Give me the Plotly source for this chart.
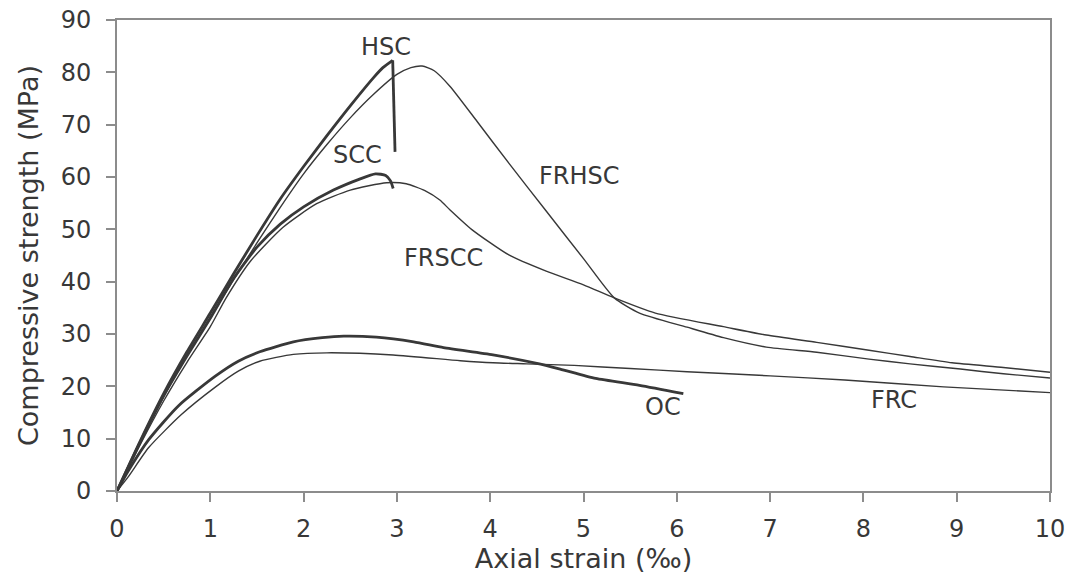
import plotly.graph_objects as go

# ---- data ----
hsc_x = [0, 0.25, 0.5, 0.75, 1.0, 1.25, 1.5, 1.75, 2.0, 2.25, 2.5, 2.75, 2.85, 2.955, 2.98]
hsc_y = [0, 9.6, 18.6, 26.6, 34.0, 41.5, 48.8, 55.8, 62.0, 67.9, 73.6, 79.0, 80.9, 82.3, 64.8]

frhsc_x = [0, 0.25, 0.5, 0.75, 1.0, 1.25, 1.5, 1.75, 2.0, 2.25, 2.5, 2.75, 3.0, 3.15, 3.27, 3.4, 3.57,
           3.86, 4.21, 4.6, 5.0, 5.33, 5.6, 6.11, 6.5, 6.96, 7.5, 8.06, 8.5, 9.04, 9.5, 10.0]
frhsc_y = [0, 9.2, 18.0, 25.9, 33.2, 40.4, 47.4, 54.2, 60.6, 66.2, 71.3, 75.8, 79.6, 80.9, 81.2, 80.3, 77.3,
           70.6, 62.4, 53.5, 44.4, 36.9, 34.0, 31.3, 29.3, 27.5, 26.5, 25.2, 24.3, 23.3, 22.4, 21.6]

scc_x = [0, 0.25, 0.5, 0.75, 1.0, 1.25, 1.5, 1.75, 2.0, 2.32, 2.6, 2.77, 2.88, 2.93, 2.96]
scc_y = [0, 9.4, 18.2, 25.8, 33.0, 40.6, 46.6, 51.0, 54.3, 57.5, 59.6, 60.6, 60.3, 59.3, 57.8]

frscc_x = [0, 0.25, 0.5, 0.75, 1.0, 1.17, 1.43, 1.78, 2.14, 2.5, 2.89, 3.1, 3.3, 3.46, 3.57, 3.8,
           4.2, 4.6, 5.0, 5.33, 5.77, 6.5, 6.96, 7.5, 8.06, 8.5, 8.95, 9.5, 10.0]
frscc_y = [0, 8.9, 17.2, 24.6, 31.4, 36.9, 43.9, 50.4, 54.9, 57.5, 58.9, 58.7, 57.4, 55.6, 53.7, 50.0,
           45.1, 42.0, 39.4, 36.9, 34.0, 31.4, 29.8, 28.4, 26.9, 25.7, 24.5, 23.6, 22.7]

oc_x = [0, 0.12, 0.34, 0.66, 1.05, 1.3, 1.53, 1.89, 2.2, 2.43, 2.78, 3.18, 3.5, 4.03, 4.5, 4.75, 5.13, 5.6, 6.07]
oc_y = [0, 3.8, 9.8, 16.3, 21.9, 24.8, 26.6, 28.5, 29.3, 29.6, 29.4, 28.5, 27.4, 26.0, 24.4, 23.3, 21.5, 20.2, 18.6]

frc_x = [0, 0.12, 0.34, 0.69, 1.05, 1.3, 1.53, 1.89, 2.25, 2.96, 3.68, 4.03, 4.39, 4.9, 5.5, 6.11, 7.0, 7.8, 8.86, 10.0]
frc_y = [0, 2.7, 8.3, 14.6, 19.8, 22.9, 24.8, 26.1, 26.4, 26.0, 24.9, 24.5, 24.3, 24.0, 23.4, 22.8, 22.0, 21.2, 19.9, 18.8]

labels = ["HSC", "SCC", "FRSCC", "FRHSC", "OC", "FRC"]
label_x = [2.88, 2.58, 3.5, 4.96, 5.85, 8.33]
label_y = [84.8, 64.3, 44.5, 60.1, 16.0, 17.4]

x_ticks = list(range(0, 11))
y_ticks = list(range(0, 91, 10))

# ---- figure ----
FONT = "DejaVu Sans, Liberation Sans, Arial, sans-serif"
INK = "#383838"
thick = dict(color=INK, width=2.8, shape="spline", smoothing=0.6)
thin = dict(color=INK, width=1.4, shape="spline", smoothing=0.6)

fig = go.Figure()
fig.add_trace(go.Scatter(x=frc_x, y=frc_y, mode="lines", line=thin, name="FRC"))
fig.add_trace(go.Scatter(x=oc_x, y=oc_y, mode="lines", line=thick, name="OC"))
fig.add_trace(go.Scatter(x=frscc_x, y=frscc_y, mode="lines", line=thin, name="FRSCC"))
fig.add_trace(go.Scatter(x=scc_x, y=scc_y, mode="lines", line=thick, name="SCC"))
fig.add_trace(go.Scatter(x=frhsc_x, y=frhsc_y, mode="lines", line=thin, name="FRHSC"))
# HSC: smooth rising branch, then the straight vertical drop at failure
fig.add_trace(go.Scatter(x=hsc_x[:-1], y=hsc_y[:-1], mode="lines", line=thick, name="HSC"))
fig.add_trace(go.Scatter(x=hsc_x[-2:], y=hsc_y[-2:], mode="lines",
                         line=dict(color=INK, width=2.8), name="HSC drop"))

for t, lx, ly in zip(labels, label_x, label_y):
    fig.add_annotation(x=lx, y=ly, text=t, showarrow=False,
                       font=dict(family=FONT, size=24, color=INK))

axis_common = dict(
    showline=True, linecolor="#8c8c8c", linewidth=2, mirror=True,
    ticks="outside", ticklen=9, tickwidth=1.5, tickcolor="#8c8c8c",
    showgrid=False, zeroline=False, automargin=False,
    tickfont=dict(family=FONT, size=24, color=INK),
)

fig.update_xaxes(range=[0, 10], tickvals=x_ticks, ticklabelstandoff=6,
                 title=dict(text="Axial strain (‰)", standoff=0,
                            font=dict(family=FONT, size=27, color=INK)),
                 **axis_common)
fig.update_yaxes(range=[0, 90], tickvals=y_ticks, ticklabelstandoff=10,
                 title=dict(text="Compressive strength (MPa)", standoff=14,
                            font=dict(family=FONT, size=27, color=INK)),
                 **axis_common)

fig.update_layout(
    width=1075, height=575,
    margin=dict(l=117, r=25, t=20, b=84),
    paper_bgcolor="white", plot_bgcolor="white",
    showlegend=False,
)

fig.write_html("out.html")
